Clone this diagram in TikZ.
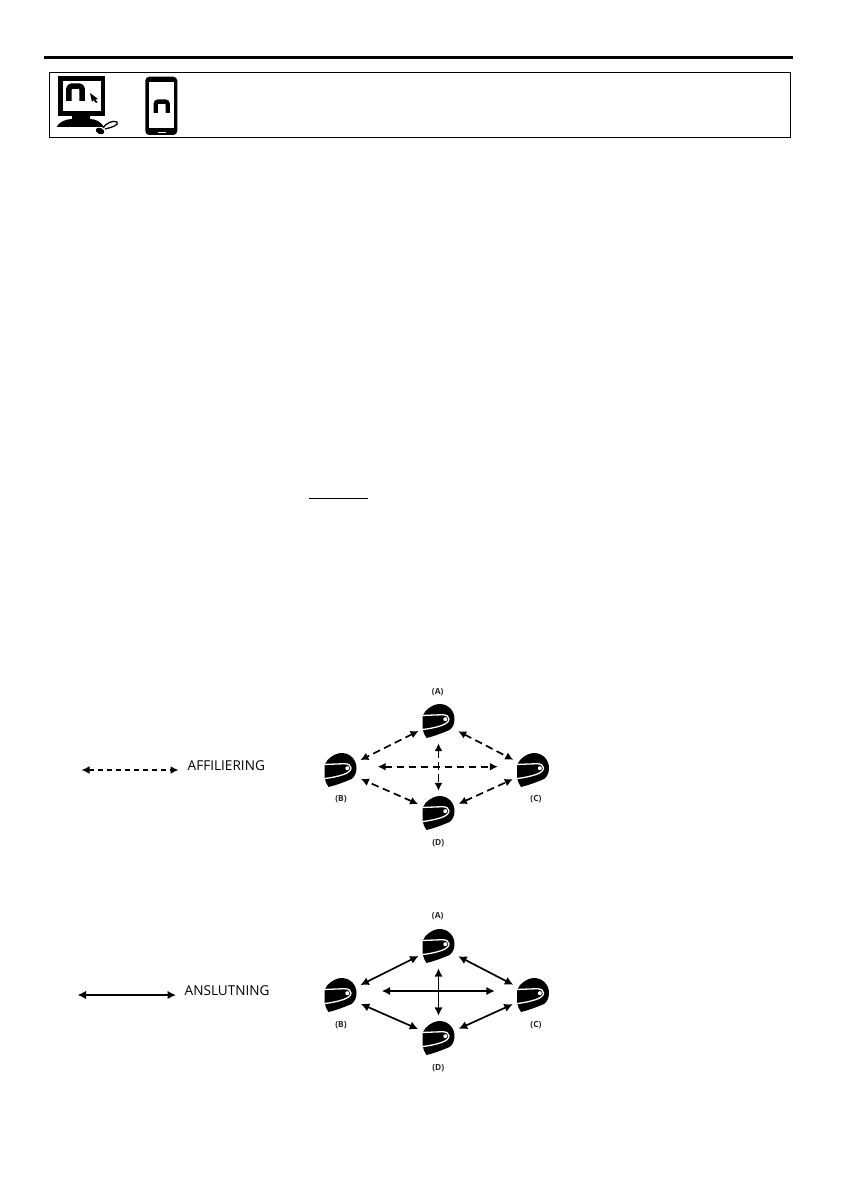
\documentclass[tikz,border=0pt]{standalone}
\usepackage{fontspec}
\setmainfont{Open Sans}
\usetikzlibrary{arrows.meta}
\tikzset{
  x=1pt,y=-1pt,
  spot/.style={circle,inner sep=0pt,minimum size=44pt},
  tag/.style={inner sep=0pt,font=\bfseries\fontsize{8.4}{9}\selectfont,text=black!85},
  legendtext/.style={inner sep=0pt,anchor=west,text=black,font=\fontsize{13.6}{15}\selectfont},
  dashlink/.style={line width=1.7pt,{Latex[length=8pt,width=8pt]}-{Latex[length=8pt,width=8pt]},dash pattern=on 7.5pt off 4.5pt},
  solidlink/.style={line width=1.7pt,{Latex[length=8.5pt,width=8.5pt]}-{Latex[length=8.5pt,width=8.5pt]}},
  helmet/.pic={
    \fill[black] (-13,-10) .. controls (-8,-15) and (-3,-17) .. (1,-17)
      .. controls (10,-17) and (16,-10) .. (16,-2)
      .. controls (16,3) and (14,7) .. (11,9)
      .. controls (4,12) and (-4,15) .. (-12,17)
      .. controls (-14,14) and (-15.5,11) .. (-15.8,8)
      -- (-16,-5) -- cycle;
    \draw[white,line width=1.3pt] (-17,-5.5) -- (4,-6.3)
      .. controls (8,-6.3) and (10.5,-4.5) .. (10.5,-2)
      .. controls (10.5,1) and (7,3) .. (3,4.5)
      .. controls (-3,6.5) and (-10,8) .. (-17,8.6);
    \fill[white] (6.8,-1.8) circle (2pt);
  },
  archshape/.pic={
    \draw[line width=5.6pt,line join=round,rounded corners=3pt] (-6.6,8.4) -- (-6.6,-6.4) -- (6.6,-6.4) -- (6.6,8.4);
  },
  smallarch/.pic={
    \draw[line width=4.4pt,rounded corners=2.5pt] (-6,6.8) -- (-6,-4.6) -- (6,-4.6) -- (6,6.8);
  }
}
\begin{document}
\begin{tikzpicture}
\useasboundingbox[fill=white] (0,0) rectangle (840,1190);
% header
\draw[line width=3pt] (44,58) -- (793,58);
\draw[line width=1pt] (49.5,73) rectangle (790,138);
% computer
\fill (57.5,76.5) rectangle (105,116);
\fill[white] (62.5,81) rectangle (100.5,111);
\pic at (75.5,92.5) {archshape};
\fill (90,93) -- (98,99) -- (95.5,99.5) -- (97.5,102.5) -- (96,103) -- (93.5,100) -- (92,102) -- cycle;
\fill (72,116) -- (90,116) -- (90,119) .. controls (96,119) and (101,122) .. (104,127)
  -- (56.5,127) .. controls (59,122) and (66,119) .. (72,119) -- cycle;
\fill[rotate around={-25:(100,131)}] (100,131) ellipse (4.5pt and 3pt);
\draw[line width=1.3pt] (103,128) .. controls (106,123) and (113,120) .. (117,122) .. controls (119,125) and (113,127) .. (105,129);
% phone
\fill[rounded corners=4pt] (145.3,76.7) rectangle (177.3,135);
\fill[white] (149.3,81.7) rectangle (174,128.3);
\fill[white] (158,131.8) rectangle (165.5,133);
\pic at (161.7,106.2) {smallarch};
% underline in the text area
\draw[line width=1pt] (309,498.3) -- (367.7,498.3);

% affiliation
\coordinate (l1a) at (81.5,770);
\coordinate (l1b) at (178.5,770);
\draw[dashlink,dash pattern=on 5pt off 4pt] (l1a) -- (l1b);
\node[legendtext] (l1t) at (187.5,765.5) {AFFILIERING};

\node[spot] (a1) at (438.5,721) {};
\node[spot] (b1) at (340.5,770) {};
\node[spot] (c1) at (533,770) {};
\node[spot] (d1) at (438.5,813) {};
\foreach \n in {a1,b1,c1,d1} \pic at (\n) {helmet};
\node[tag] (ta1) at (437.7,692) {(A)};
\node[tag] (tb1) at (341,799.6) {(B)};
\node[tag] (tc1) at (536,799.6) {(C)};
\node[tag] (td1) at (438.3,843.3) {(D)};
\draw[dashlink] (a1) -- (b1);
\draw[dashlink] (a1) -- (c1);
\draw[dashlink] (d1) -- (b1);
\draw[dashlink] (d1) -- (c1);
\draw[dashlink] (a1) -- (d1);
\draw[dashlink,shorten <=15pt,shorten >=13pt] (b1.east |- 0,766.7) -- (c1.west |- 0,766.7);

% connection
\coordinate (l2a) at (77.5,995);
\coordinate (l2b) at (176,995);
\draw[solidlink] (l2a) -- (l2b);
\node[legendtext] (l2t) at (184.5,990.5) {ANSLUTNING};

\node[spot] (a2) at (438.5,946) {};
\node[spot] (b2) at (340.5,995) {};
\node[spot] (c2) at (533,995) {};
\node[spot] (d2) at (438.5,1038) {};
\foreach \n in {a2,b2,c2,d2} \pic at (\n) {helmet};
\node[tag] (ta2) at (437.7,916.3) {(A)};
\node[tag] (tb2) at (341,1024.9) {(B)};
\node[tag] (tc2) at (536,1024.9) {(C)};
\node[tag] (td2) at (438.3,1068.3) {(D)};
\draw[solidlink] (a2) -- (b2);
\draw[solidlink] (a2) -- (c2);
\draw[solidlink] (d2) -- (b2);
\draw[solidlink] (d2) -- (c2);
\draw[solidlink] (a2) -- (d2);
\draw[solidlink,shorten <=19pt,shorten >=16pt] (b2.east |- 0,991) -- (c2.west |- 0,991);
\end{tikzpicture}
\end{document}
